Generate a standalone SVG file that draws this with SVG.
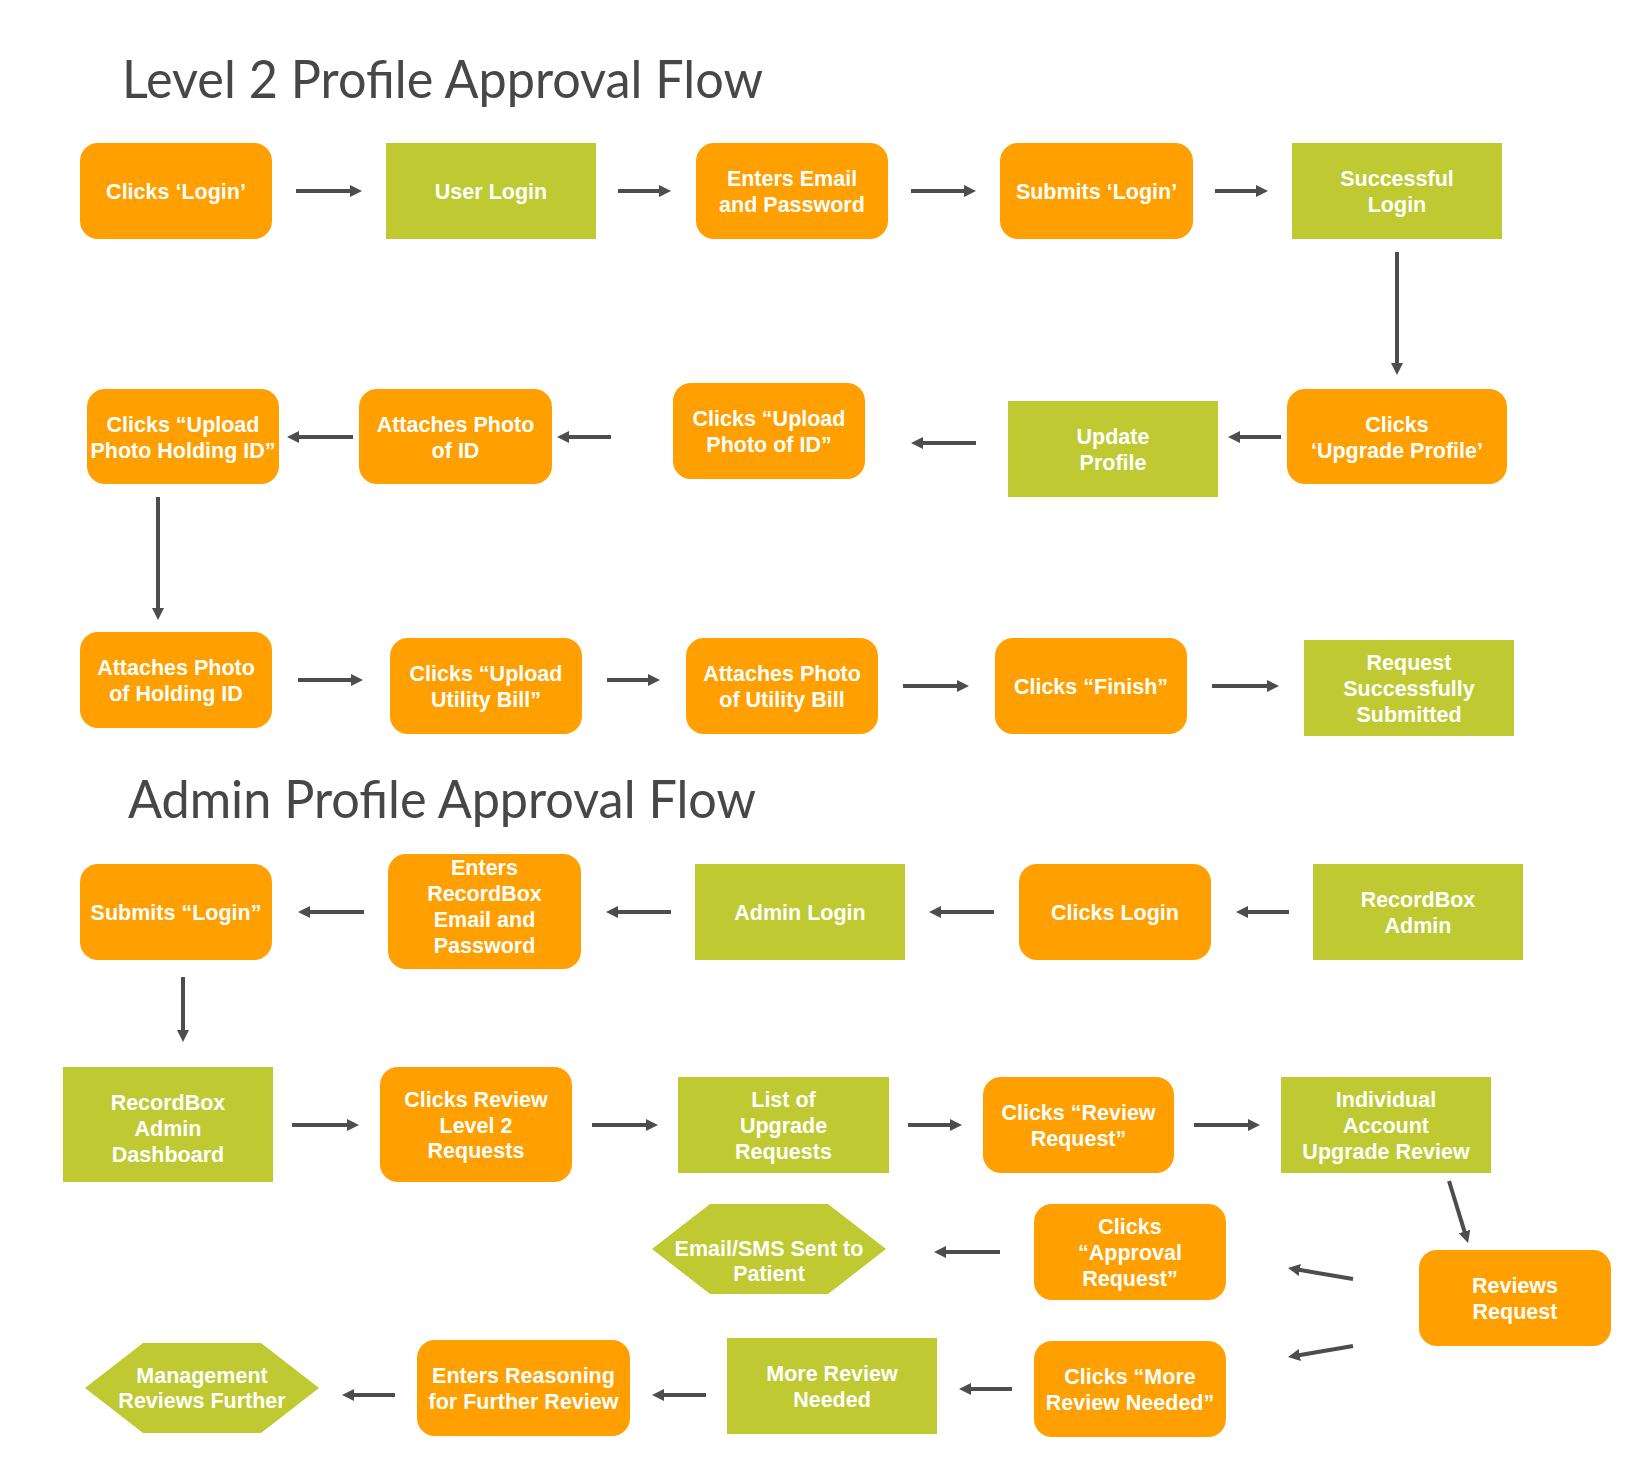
<svg xmlns="http://www.w3.org/2000/svg" width="1642" height="1482" viewBox="0 0 1642 1482">
<defs>
<style>
.o{fill:#FF9F00}
.g{fill:#BFCA33}
.t{font-family:"Liberation Sans",Arial,sans-serif;font-weight:bold;font-size:21.5px;fill:#FFFFFF;text-anchor:middle}
.h{font-family:Lato,"Open Sans","Liberation Sans",sans-serif;font-size:53px;fill:#474747}
.c line{stroke:#4D4D4D;stroke-width:4;marker-end:url(#ah)}
</style>
<marker id="ah" viewBox="0 0 12 12" markerWidth="12" markerHeight="12" markerUnits="userSpaceOnUse" refX="4" refY="6" orient="auto">
<path d="M0,0 L12,6 L0,12 Z" fill="#4D4D4D"/>
</marker>
</defs>
<rect width="1642" height="1482" fill="#FFFFFF"/>
<text class="h" x="122" y="98" textLength="641" lengthAdjust="spacingAndGlyphs">Level 2 Profile Approval Flow</text>
<text class="h" x="128" y="818" textLength="628" lengthAdjust="spacingAndGlyphs">Admin Profile Approval Flow</text>

<g class="c" id="connectors">
<line x1="296" y1="191" x2="354" y2="191"/>
<line x1="618" y1="191" x2="663" y2="191"/>
<line x1="911" y1="191" x2="968" y2="191"/>
<line x1="1215" y1="191" x2="1260" y2="191"/>
<line x1="1397" y1="252" x2="1397" y2="367"/>
<line x1="1281" y1="437" x2="1236" y2="437"/>
<line x1="976" y1="443" x2="919" y2="443"/>
<line x1="611" y1="437" x2="565" y2="437"/>
<line x1="353" y1="437" x2="295" y2="437"/>
<line x1="158" y1="497" x2="158" y2="612"/>
<line x1="298" y1="680" x2="355" y2="680"/>
<line x1="607" y1="680" x2="652" y2="680"/>
<line x1="903" y1="686" x2="961" y2="686"/>
<line x1="1212" y1="686" x2="1271" y2="686"/>
<line x1="1289" y1="912" x2="1244" y2="912"/>
<line x1="994" y1="912" x2="937" y2="912"/>
<line x1="671" y1="912" x2="614" y2="912"/>
<line x1="364" y1="912" x2="306" y2="912"/>
<line x1="183" y1="977" x2="183" y2="1034"/>
<line x1="292" y1="1125" x2="351" y2="1125"/>
<line x1="592" y1="1125" x2="650" y2="1125"/>
<line x1="908" y1="1125" x2="954" y2="1125"/>
<line x1="1194" y1="1125" x2="1252" y2="1125"/>
<line x1="1449" y1="1181" x2="1465.7" y2="1235.3"/>
<line x1="1353" y1="1279" x2="1295.9" y2="1269.3"/>
<line x1="1353" y1="1346" x2="1295.9" y2="1355.7"/>
<line x1="1000" y1="1252" x2="942" y2="1252"/>
<line x1="1012" y1="1389" x2="967" y2="1389"/>
<line x1="706" y1="1395" x2="660" y2="1395"/>
<line x1="395" y1="1395" x2="350" y2="1395"/>
</g>

<g id="n1"><rect class="o" x="80" y="143" width="192" height="96" rx="18"/><text class="t" x="176" y="199">Clicks ‘Login’</text></g>
<g id="n2"><rect class="g" x="386" y="143" width="210" height="96"/><text class="t" x="491" y="199">User Login</text></g>
<g id="n3"><rect class="o" x="696" y="143" width="192" height="96" rx="18"/><text class="t" x="792" y="186">Enters Email</text><text class="t" x="792" y="212">and Password</text></g>
<g id="n4"><rect class="o" x="1000" y="143" width="193" height="96" rx="18"/><text class="t" x="1096.5" y="199">Submits ‘Login’</text></g>
<g id="n5"><rect class="g" x="1292" y="143" width="210" height="96"/><text class="t" x="1397" y="186">Successful</text><text class="t" x="1397" y="212">Login</text></g>
<g id="n6"><rect class="o" x="1287" y="389" width="220" height="95" rx="18"/><text class="t" x="1397" y="431.5">Clicks</text><text class="t" x="1397" y="457.5">‘Upgrade Profile’</text></g>
<g id="n7"><rect class="g" x="1008" y="401" width="210" height="96"/><text class="t" x="1113" y="444">Update</text><text class="t" x="1113" y="470">Profile</text></g>
<g id="n8"><rect class="o" x="673" y="383" width="192" height="96" rx="18"/><text class="t" x="769" y="426">Clicks “Upload</text><text class="t" x="769" y="452">Photo of ID”</text></g>
<g id="n9"><rect class="o" x="359" y="389" width="193" height="95" rx="18"/><text class="t" x="455.5" y="431.5">Attaches Photo</text><text class="t" x="455.5" y="457.5">of ID</text></g>
<g id="n10"><rect class="o" x="87" y="389" width="192" height="95" rx="18"/><text class="t" x="183" y="431.5">Clicks “Upload</text><text class="t" x="183" y="457.5">Photo Holding ID”</text></g>
<g id="n11"><rect class="o" x="80" y="632" width="192" height="96" rx="18"/><text class="t" x="176" y="675">Attaches Photo</text><text class="t" x="176" y="701">of Holding ID</text></g>
<g id="n12"><rect class="o" x="390" y="638" width="192" height="96" rx="18"/><text class="t" x="486" y="681">Clicks “Upload</text><text class="t" x="486" y="707">Utility Bill”</text></g>
<g id="n13"><rect class="o" x="686" y="638" width="192" height="96" rx="18"/><text class="t" x="782" y="681">Attaches Photo</text><text class="t" x="782" y="707">of Utility Bill</text></g>
<g id="n14"><rect class="o" x="995" y="638" width="192" height="96" rx="18"/><text class="t" x="1091" y="694">Clicks “Finish”</text></g>
<g id="n15"><rect class="g" x="1304" y="640" width="210" height="96"/><text class="t" x="1409" y="670">Request</text><text class="t" x="1409" y="696">Successfully</text><text class="t" x="1409" y="722">Submitted</text></g>

<g id="a1"><rect class="o" x="80" y="864" width="192" height="96" rx="18"/><text class="t" x="176" y="920">Submits “Login”</text></g>
<g id="a2"><rect class="o" x="388" y="854" width="193" height="115" rx="18"/><text class="t" x="484.5" y="875">Enters</text><text class="t" x="484.5" y="901">RecordBox</text><text class="t" x="484.5" y="927">Email and</text><text class="t" x="484.5" y="953">Password</text></g>
<g id="a3"><rect class="g" x="695" y="864" width="210" height="96"/><text class="t" x="800" y="920">Admin Login</text></g>
<g id="a4"><rect class="o" x="1019" y="864" width="192" height="96" rx="18"/><text class="t" x="1115" y="920">Clicks Login</text></g>
<g id="a5"><rect class="g" x="1313" y="864" width="210" height="96"/><text class="t" x="1418" y="907">RecordBox</text><text class="t" x="1418" y="933">Admin</text></g>
<g id="a6"><rect class="g" x="63" y="1067" width="210" height="115"/><text class="t" x="168" y="1110">RecordBox</text><text class="t" x="168" y="1136">Admin</text><text class="t" x="168" y="1162">Dashboard</text></g>
<g id="a7"><rect class="o" x="380" y="1067" width="192" height="115" rx="18"/><text class="t" x="476" y="1107">Clicks Review</text><text class="t" x="476" y="1133">Level 2</text><text class="t" x="476" y="1158">Requests</text></g>
<g id="a8"><rect class="g" x="678" y="1077" width="211" height="96"/><text class="t" x="783.5" y="1107">List of</text><text class="t" x="783.5" y="1133">Upgrade</text><text class="t" x="783.5" y="1159">Requests</text></g>
<g id="a9"><rect class="o" x="983" y="1077" width="191" height="96" rx="18"/><text class="t" x="1078.5" y="1120">Clicks “Review</text><text class="t" x="1078.5" y="1146">Request”</text></g>
<g id="a10"><rect class="g" x="1281" y="1077" width="210" height="96"/><text class="t" x="1386" y="1107">Individual</text><text class="t" x="1386" y="1133">Account</text><text class="t" x="1386" y="1159">Upgrade Review</text></g>
<g id="a11"><rect class="o" x="1419" y="1250" width="192" height="96" rx="18"/><text class="t" x="1515" y="1293">Reviews</text><text class="t" x="1515" y="1319">Request</text></g>
<g id="a12"><rect class="o" x="1034" y="1204" width="192" height="96" rx="18"/><text class="t" x="1130" y="1234">Clicks</text><text class="t" x="1130" y="1260">“Approval</text><text class="t" x="1130" y="1286">Request”</text></g>
<g id="a13"><polygon class="g" points="652,1249 710,1204 828,1204 886,1249 828,1294 710,1294"/><text class="t" x="769" y="1256">Email/SMS Sent to</text><text class="t" x="769" y="1281">Patient</text></g>
<g id="a14"><rect class="o" x="1034" y="1341" width="192" height="96" rx="18"/><text class="t" x="1130" y="1384">Clicks “More</text><text class="t" x="1130" y="1410">Review Needed”</text></g>
<g id="a15"><rect class="g" x="727" y="1338" width="210" height="96"/><text class="t" x="832" y="1381">More Review</text><text class="t" x="832" y="1407">Needed</text></g>
<g id="a16"><rect class="o" x="417" y="1340" width="213" height="96" rx="18"/><text class="t" x="523.5" y="1383">Enters Reasoning</text><text class="t" x="523.5" y="1409">for Further Review</text></g>
<g id="a17"><polygon class="g" points="85,1388 143,1343 261,1343 319,1388 261,1433 143,1433"/><text class="t" x="202" y="1383">Management</text><text class="t" x="202" y="1408">Reviews Further</text></g>
</svg>
